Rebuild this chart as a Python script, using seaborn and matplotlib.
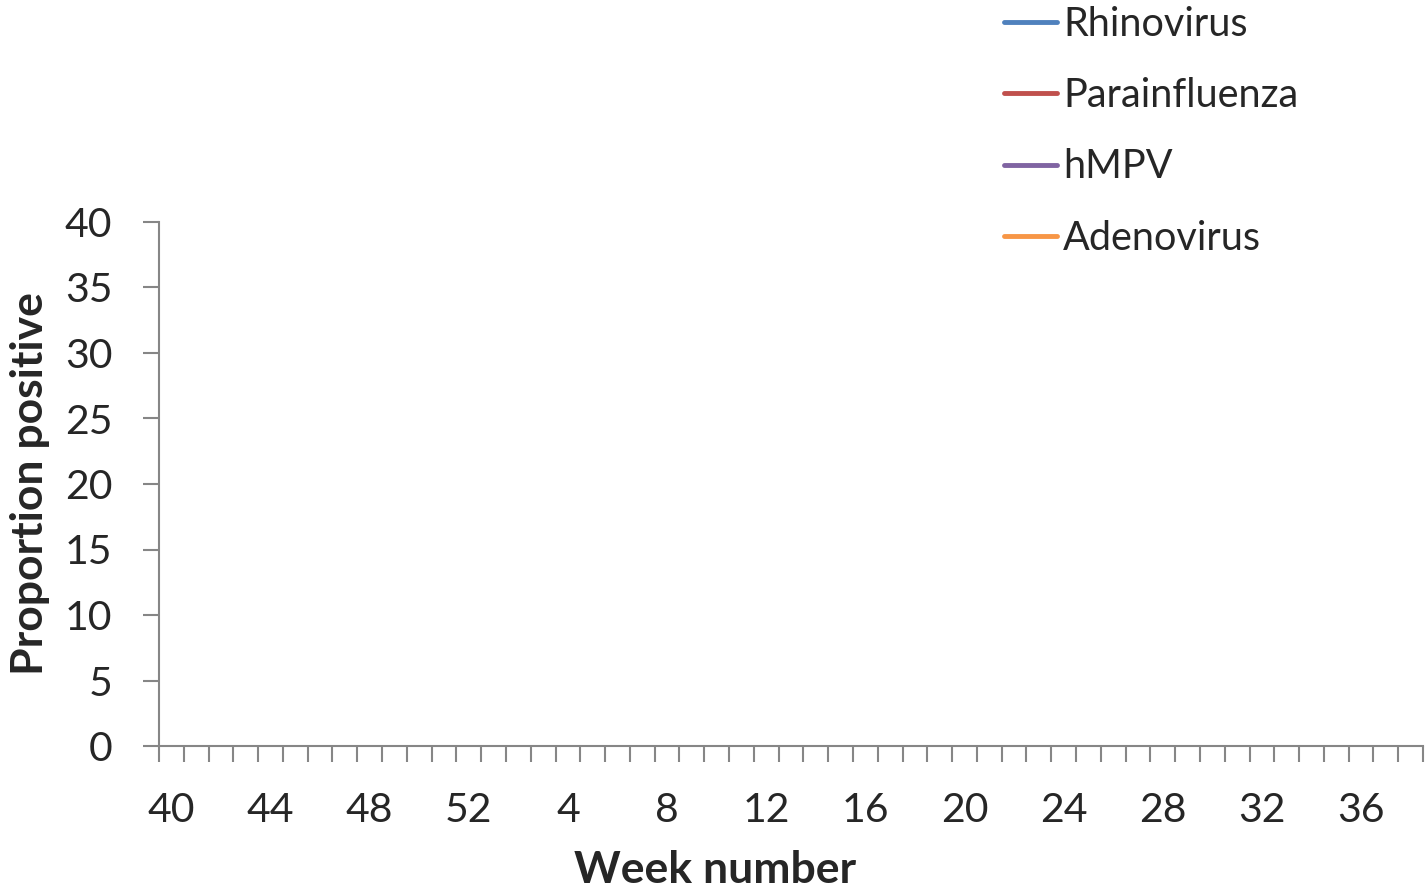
import numpy as np
import matplotlib
matplotlib.use("Agg")
import matplotlib.pyplot as plt
import seaborn as sns

# week numbers on the category axis (season wk 40 -> wk 38)
weeks = [40, 41, 42, 43, 44, 45, 46, 47, 48, 49, 50, 51, 52,
         1, 2, 3, 4, 5, 6, 7, 8, 9, 10, 11, 12, 13, 14, 15, 16, 17, 18, 19,
         20, 21, 22, 23, 24, 25, 26, 27, 28, 29, 30, 31, 32, 33, 34, 35, 36, 37, 38]

# the chart shows no plotted points, only the legend entries
series_names = ["Rhinovirus", "Parainfluenza", "hMPV", "Adenovirus"]
rhinovirus = []
parainfluenza = []
hmpv = []
adenovirus = []
series_values = [rhinovirus, parainfluenza, hmpv, adenovirus]
colors = ["#4F81BD", "#C0504D", "#8064A2", "#F79646"]

y_ticks = [0, 5, 10, 15, 20, 25, 30, 35, 40]

sns.set_style("white")
plt.rcParams['font.family'] = ['Lato', 'DejaVu Sans']

fig = plt.figure(figsize=(14.28, 8.89), dpi=100)
ax = fig.add_axes([159 / 1428, 1 - 746 / 889, 1264 / 1428, 524 / 889])

handles = []
for name, vals, c in zip(series_names, series_values, colors):
    h, = ax.plot(list(range(len(vals))), vals, color=c, lw=3.5, label=name,
                 solid_capstyle="round")
    handles.append(h)

n = len(weeks)
ax.set_xlim(-0.5, n - 0.5)
ax.set_ylim(0, 40)

axis_grey = "#868686"
for s in ["top", "right"]:
    ax.spines[s].set_visible(False)
for s in ["left", "bottom"]:
    ax.spines[s].set_color(axis_grey)
    ax.spines[s].set_linewidth(1.5)

# tick marks between categories, labels every 4th week
ax.set_xticks(np.arange(n + 1) - 0.5, minor=True)
ax.set_xticks(np.arange(0, n, 4))
ax.set_xticklabels([str(weeks[i]) for i in range(0, n, 4)])
ax.tick_params(axis="x", which="minor", direction="out", length=11.5,
               width=1.5, color=axis_grey, bottom=True)
ax.tick_params(axis="x", which="major", length=0, pad=33, labelsize=29.5)

ax.set_yticks(y_ticks)
ax.tick_params(axis="y", direction="out", length=11.5, width=1.5,
               color=axis_grey, left=True, pad=22, labelsize=29.5)

ax.set_xlabel("Week number", fontsize=32, fontweight="bold")
ax.xaxis.set_label_coords((715 - 159) / 1264, -(850 - 746) / 524)
ax.set_ylabel("Proportion positive", fontsize=32, fontweight="bold")
ax.yaxis.set_label_coords(-(159 - 50) / 1264, 0.5)

fig.legend(handles=handles, loc="upper left",
           bbox_to_anchor=(968 / 1428, 1 + 30 / 889), frameon=False,
           fontsize=28.5, handlelength=1.35, handletextpad=0.15,
           labelspacing=0.87)

fig.savefig("out.png", dpi=100)
